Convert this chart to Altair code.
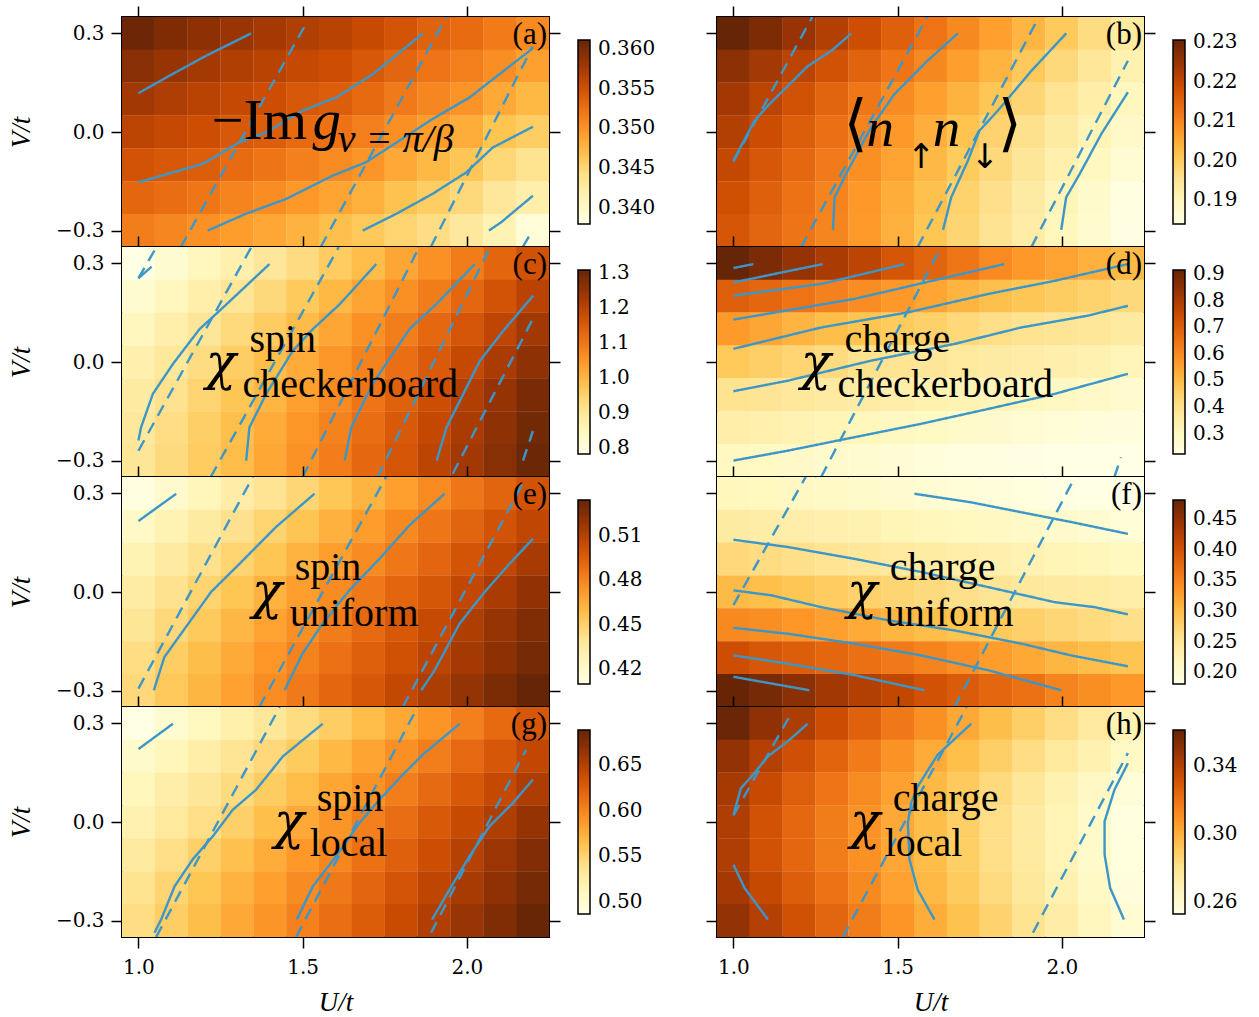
import altair as alt
import pandas as pd

# ---------------- data ----------------
U_VALUES = [1.0, 1.1, 1.2, 1.3, 1.4, 1.5, 1.6, 1.7, 1.8, 1.9, 2.0, 2.1, 2.2]
V_VALUES = [0.3, 0.2, 0.1, 0.0, -0.1, -0.2, -0.3]   # rows, top to bottom

A_VALUES = [
    [0.3607, 0.3597, 0.3589, 0.3582, 0.3576, 0.3569, 0.3564, 0.3556, 0.3547, 0.3536, 0.3528, 0.3517, 0.3506],
    [0.3592, 0.3583, 0.3576, 0.3569, 0.3564, 0.3557, 0.3552, 0.3544, 0.3533, 0.3522, 0.3514, 0.3503, 0.3491],
    [0.3577, 0.3570, 0.3564, 0.3557, 0.3552, 0.3544, 0.3539, 0.3530, 0.3518, 0.3508, 0.3500, 0.3485, 0.3474],
    [0.3563, 0.3557, 0.3552, 0.3544, 0.3539, 0.3529, 0.3523, 0.3514, 0.3502, 0.3493, 0.3482, 0.3466, 0.3457],
    [0.3548, 0.3543, 0.3539, 0.3528, 0.3521, 0.3513, 0.3506, 0.3498, 0.3485, 0.3475, 0.3464, 0.3449, 0.3438],
    [0.3532, 0.3527, 0.3520, 0.3510, 0.3504, 0.3496, 0.3488, 0.3480, 0.3467, 0.3458, 0.3447, 0.3432, 0.3421],
    [0.3515, 0.3509, 0.3501, 0.3493, 0.3486, 0.3478, 0.3469, 0.3462, 0.3452, 0.3443, 0.3430, 0.3414, 0.3390],
]
B_VALUES = [
    [0.2305, 0.2280, 0.2249, 0.2218, 0.2187, 0.2156, 0.2126, 0.2095, 0.2065, 0.2034, 0.2004, 0.1970, 0.1936],
    [0.2262, 0.2235, 0.2207, 0.2180, 0.2152, 0.2125, 0.2097, 0.2066, 0.2036, 0.2005, 0.1975, 0.1945, 0.1915],
    [0.2236, 0.2207, 0.2179, 0.2150, 0.2121, 0.2093, 0.2065, 0.2038, 0.2010, 0.1982, 0.1954, 0.1925, 0.1897],
    [0.2217, 0.2189, 0.2160, 0.2132, 0.2103, 0.2073, 0.2044, 0.2014, 0.1986, 0.1960, 0.1933, 0.1906, 0.1880],
    [0.2199, 0.2171, 0.2143, 0.2115, 0.2087, 0.2059, 0.2030, 0.2002, 0.1975, 0.1947, 0.1919, 0.1892, 0.1864],
    [0.2184, 0.2156, 0.2129, 0.2102, 0.2074, 0.2046, 0.2018, 0.1989, 0.1961, 0.1932, 0.1904, 0.1875, 0.1847],
    [0.2172, 0.2148, 0.2124, 0.2101, 0.2071, 0.2041, 0.2011, 0.1983, 0.1955, 0.1927, 0.1899, 0.1872, 0.1844],
]
C_VALUES = [
    [0.785, 0.817, 0.845, 0.872, 0.900, 0.931, 0.962, 0.992, 1.025, 1.058, 1.092, 1.129, 1.167],
    [0.815, 0.845, 0.875, 0.906, 0.936, 0.967, 0.997, 1.029, 1.061, 1.092, 1.128, 1.164, 1.200],
    [0.845, 0.875, 0.904, 0.934, 0.963, 0.993, 1.025, 1.058, 1.090, 1.125, 1.160, 1.195, 1.231],
    [0.870, 0.899, 0.929, 0.958, 0.988, 1.018, 1.050, 1.081, 1.115, 1.150, 1.186, 1.221, 1.257],
    [0.888, 0.916, 0.945, 0.974, 1.003, 1.037, 1.070, 1.104, 1.139, 1.175, 1.211, 1.246, 1.282],
    [0.898, 0.927, 0.957, 0.987, 1.018, 1.051, 1.083, 1.117, 1.152, 1.187, 1.222, 1.257, 1.292],
    [0.903, 0.933, 0.962, 0.991, 1.024, 1.057, 1.091, 1.126, 1.161, 1.196, 1.231, 1.266, 1.301],
]
D_VALUES = [
    [0.915, 0.879, 0.836, 0.800, 0.768, 0.717, 0.685, 0.643, 0.600, 0.570, 0.548, 0.525, 0.502],
    [0.697, 0.678, 0.650, 0.619, 0.595, 0.571, 0.544, 0.515, 0.490, 0.474, 0.458, 0.442, 0.423],
    [0.567, 0.542, 0.514, 0.493, 0.481, 0.464, 0.448, 0.428, 0.408, 0.396, 0.387, 0.379, 0.366],
    [0.469, 0.452, 0.436, 0.419, 0.400, 0.392, 0.382, 0.371, 0.360, 0.351, 0.342, 0.331, 0.317],
    [0.395, 0.386, 0.376, 0.366, 0.355, 0.347, 0.337, 0.327, 0.316, 0.307, 0.296, 0.284, 0.269],
    [0.347, 0.339, 0.329, 0.320, 0.310, 0.302, 0.292, 0.282, 0.272, 0.263, 0.255, 0.248, 0.245],
    [0.300, 0.292, 0.283, 0.274, 0.265, 0.257, 0.247, 0.238, 0.233, 0.229, 0.227, 0.225, 0.224],
]
E_VALUES = [
    [0.4118, 0.4189, 0.4261, 0.4332, 0.4403, 0.4474, 0.4548, 0.4624, 0.4700, 0.4776, 0.4851, 0.4927, 0.5002],
    [0.4215, 0.4283, 0.4350, 0.4418, 0.4486, 0.4559, 0.4633, 0.4707, 0.4781, 0.4854, 0.4926, 0.4998, 0.5071],
    [0.4285, 0.4352, 0.4419, 0.4485, 0.4557, 0.4630, 0.4703, 0.4776, 0.4849, 0.4921, 0.4994, 0.5067, 0.5139],
    [0.4342, 0.4414, 0.4485, 0.4557, 0.4629, 0.4701, 0.4773, 0.4845, 0.4917, 0.4989, 0.5061, 0.5133, 0.5205],
    [0.4390, 0.4463, 0.4537, 0.4611, 0.4684, 0.4758, 0.4831, 0.4903, 0.4975, 0.5046, 0.5118, 0.5190, 0.5262],
    [0.4442, 0.4514, 0.4587, 0.4659, 0.4732, 0.4804, 0.4874, 0.4943, 0.5013, 0.5082, 0.5152, 0.5222, 0.5291],
    [0.4465, 0.4540, 0.4615, 0.4691, 0.4766, 0.4840, 0.4912, 0.4984, 0.5056, 0.5128, 0.5200, 0.5272, 0.5340],
]
F_VALUES = [
    [0.219, 0.216, 0.213, 0.209, 0.206, 0.202, 0.198, 0.195, 0.192, 0.188, 0.184, 0.182, 0.181],
    [0.241, 0.238, 0.235, 0.231, 0.228, 0.223, 0.219, 0.216, 0.212, 0.208, 0.204, 0.200, 0.195],
    [0.269, 0.265, 0.260, 0.254, 0.249, 0.245, 0.240, 0.236, 0.232, 0.227, 0.223, 0.220, 0.216],
    [0.302, 0.297, 0.290, 0.284, 0.278, 0.273, 0.267, 0.260, 0.253, 0.247, 0.243, 0.240, 0.236],
    [0.346, 0.341, 0.334, 0.325, 0.316, 0.306, 0.298, 0.293, 0.286, 0.279, 0.272, 0.266, 0.260],
    [0.405, 0.395, 0.387, 0.378, 0.370, 0.360, 0.350, 0.339, 0.328, 0.318, 0.306, 0.298, 0.292],
    [0.480, 0.469, 0.454, 0.437, 0.425, 0.413, 0.400, 0.390, 0.378, 0.368, 0.350, 0.341, 0.332],
]
G_VALUES = [
    [0.4885, 0.4995, 0.5104, 0.5214, 0.5323, 0.5433, 0.5547, 0.5667, 0.5787, 0.5906, 0.6030, 0.6165, 0.6300],
    [0.503, 0.514, 0.524, 0.535, 0.546, 0.557, 0.569, 0.581, 0.593, 0.6048, 0.6173, 0.6299, 0.6425],
    [0.512, 0.523, 0.533, 0.544, 0.555, 0.567, 0.580, 0.592, 0.604, 0.617, 0.629, 0.641, 0.653],
    [0.519, 0.530, 0.541, 0.5525, 0.565, 0.578, 0.590, 0.603, 0.615, 0.628, 0.640, 0.652, 0.665],
    [0.529, 0.541, 0.553, 0.564, 0.576, 0.588, 0.599, 0.612, 0.624, 0.637, 0.649, 0.662, 0.674],
    [0.537, 0.549, 0.561, 0.573, 0.584, 0.596, 0.608, 0.620, 0.632, 0.644, 0.656, 0.668, 0.680],
    [0.542, 0.554, 0.566, 0.578, 0.590, 0.602, 0.614, 0.626, 0.639, 0.651, 0.663, 0.675, 0.687],
]
H_VALUES = [
    [0.3600, 0.3501, 0.3421, 0.3341, 0.3261, 0.3180, 0.3100, 0.3019, 0.2951, 0.2887, 0.2824, 0.2760, 0.2696],
    [0.3490, 0.3404, 0.3326, 0.3248, 0.3170, 0.3092, 0.3014, 0.2949, 0.2887, 0.2824, 0.2762, 0.2700, 0.2637],
    [0.3440, 0.3350, 0.3268, 0.3193, 0.3119, 0.3045, 0.2973, 0.2907, 0.2840, 0.2774, 0.2707, 0.2640, 0.2574],
    [0.3420, 0.3320, 0.3236, 0.3165, 0.3093, 0.3022, 0.2954, 0.2887, 0.2820, 0.2754, 0.2687, 0.2620, 0.2553],
    [0.3420, 0.3320, 0.3237, 0.3166, 0.3096, 0.3025, 0.2956, 0.2889, 0.2822, 0.2755, 0.2688, 0.2621, 0.2555],
    [0.3445, 0.3355, 0.3274, 0.3198, 0.3122, 0.3046, 0.2973, 0.2905, 0.2837, 0.2769, 0.2700, 0.2632, 0.2564],
    [0.3490, 0.3404, 0.3325, 0.3246, 0.3167, 0.3088, 0.3009, 0.2939, 0.2870, 0.2801, 0.2731, 0.2662, 0.2592],
]

# contour lines (U, V)
A_SOLID = [
    [(1.0, 0.118), (1.094, 0.171), (1.206, 0.232), (1.343, 0.30)],
    [(1.0, -0.153), (1.196, -0.097), (1.308, -0.031), (1.389, -0.001), (1.5, 0.065), (1.602, 0.105), (1.714, 0.176), (1.866, 0.30)],
    [(1.211, -0.30), (1.327, -0.249), (1.449, -0.204), (1.591, -0.133), (1.693, -0.092), (1.795, -0.026), (1.896, 0.040), (2.008, 0.105), (2.099, 0.176), (2.201, 0.255)],
    [(1.683, -0.30), (1.785, -0.249), (1.896, -0.188), (1.998, -0.123), (2.079, -0.047), (2.201, 0.016)],
    [(2.067, -0.30), (2.104, -0.275), (2.201, -0.194)],
]
A_DASHED = [
    [(1.129, -0.35), (1.505, 0.32)],
    [(1.555, -0.35), (1.937, 0.35)],
    [(1.89, -0.35), (2.2, 0.26)],
    [(2.17, -0.35), (2.2, -0.30)],
]
B_SOLID = [
    [(1.0, -0.087), (1.064, 0.034), (1.105, 0.080), (1.227, 0.201), (1.298, 0.247), (1.359, 0.30)],
    [(1.303, -0.298), (1.308, -0.199), (1.348, -0.118), (1.419, 0.014), (1.490, 0.115), (1.591, 0.217), (1.683, 0.30)],
    [(1.638, -0.298), (1.663, -0.199), (1.714, -0.087), (1.749, 0.004), (1.805, 0.065), (1.907, 0.186), (2.013, 0.30)],
    [(1.998, -0.298), (2.013, -0.199), (2.054, -0.128), (2.120, -0.006), (2.201, 0.121)],
]
B_DASHED = [
    [(1.0, -0.09), (1.24, 0.35)],
    [(1.206, -0.35), (1.59, 0.35)],
    [(1.561, -0.35), (1.93, 0.35)],
    [(1.907, -0.35), (2.201, 0.217)],
]
C_SOLID = [
    [(1.0, 0.255), (1.04, 0.29)],
    [(1.0, -0.239), (1.008, -0.199), (1.044, -0.097), (1.105, -0.006), (1.186, 0.100), (1.247, 0.156), (1.399, 0.298)],
    [(1.328, -0.30), (1.338, -0.199), (1.389, -0.097), (1.470, 0.034), (1.531, 0.100), (1.613, 0.176), (1.724, 0.298)],
    [(1.628, -0.30), (1.648, -0.199), (1.713, -0.066), (1.826, 0.101), (1.908, 0.177), (2.024, 0.298)],
    [(1.908, -0.30), (1.938, -0.199), (2.04, 0.004), (2.111, 0.095), (2.202, 0.202)],
]
C_DASHED = [
    [(1.0, 0.255), (1.055, 0.35)],
    [(1.0, -0.27), (1.344, 0.35)],
    [(1.22, -0.35), (1.61, 0.35)],
    [(1.50, -0.35), (1.855, 0.35)],
    [(1.728, -0.35), (2.071, 0.35)],
    [(1.957, -0.34), (2.20, 0.13)],
    [(2.171, -0.30), (2.201, -0.21)],
]
D_SOLID = [
    [(1.0, 0.286), (1.061, 0.298)],
    [(1.0, 0.242), (1.135, 0.27), (1.272, 0.298)],
    [(1.0, 0.202), (1.27, 0.238), (1.521, 0.298)],
    [(1.0, 0.129), (1.368, 0.192), (1.825, 0.298)],
    [(1.0, 0.040), (1.267, 0.105), (1.531, 0.151), (1.775, 0.207), (1.978, 0.247), (2.201, 0.298)],
    [(1.0, -0.089), (1.165, -0.057), (1.419, 0.004), (1.673, 0.055), (1.876, 0.105), (2.079, 0.141), (2.201, 0.171)],
    [(1.0, -0.30), (1.165, -0.27), (1.318, -0.239), (1.572, -0.188), (1.775, -0.143), (1.978, -0.097), (2.201, -0.036)],
]
D_DASHED = [
    [(1.267, -0.35), (1.632, 0.35)],
    [(2.16, -0.35), (2.18, -0.29)],
]
E_SOLID = [
    [(1.0, 0.216), (1.115, 0.299)],
    [(1.047, -0.299), (1.079, -0.198), (1.145, -0.106), (1.221, 0.0), (1.308, 0.086), (1.419, 0.198), (1.536, 0.299)],
    [(1.445, -0.299), (1.5, -0.187), (1.561, -0.096), (1.642, 0.005), (1.734, 0.101), (1.825, 0.203), (1.932, 0.299)],
    [(1.861, -0.299), (1.902, -0.238), (1.978, -0.096), (2.054, 0.0), (2.130, 0.086), (2.201, 0.162)],
]
E_DASHED = [
    [(1.0, -0.294), (1.348, 0.35)],
    [(1.368, -0.35), (1.754, 0.35)],
    [(1.805, -0.35), (2.17, 0.33)],
]
F_SOLID = [
    [(1.551, 0.299), (1.723, 0.273), (1.875, 0.243), (2.028, 0.213), (2.201, 0.177)],
    [(1.0, 0.159), (1.165, 0.137), (1.368, 0.101), (1.571, 0.061), (1.775, 0.015), (1.978, -0.031), (2.099, -0.046), (2.201, -0.068)],
    [(1.0, 0.005), (1.115, -0.010), (1.267, -0.046), (1.470, -0.086), (1.673, -0.117), (1.876, -0.157), (2.028, -0.193), (2.201, -0.226)],
    [(1.0, -0.109), (1.165, -0.127), (1.368, -0.157), (1.571, -0.193), (1.775, -0.238), (1.998, -0.299)],
    [(1.0, -0.193), (1.165, -0.218), (1.368, -0.253), (1.582, -0.299)],
    [(1.0, -0.258), (1.231, -0.299)],
]
F_DASHED = [
    [(1.0, -0.04), (1.22, 0.35)],
    [(1.673, -0.35), (2.04, 0.35)],
]
G_SOLID = [
    [(1.0, 0.222), (1.105, 0.299)],
    [(1.049, -0.337), (1.069, -0.297), (1.110, -0.196), (1.165, -0.114), (1.226, -0.044), (1.287, 0.037), (1.358, 0.098), (1.440, 0.200), (1.561, 0.299)],
    [(1.482, -0.297), (1.531, -0.196), (1.602, -0.104), (1.673, -0.003), (1.734, 0.068), (1.805, 0.144), (1.866, 0.205), (1.978, 0.299)],
    [(1.894, -0.297), (1.947, -0.206), (2.008, -0.104), (2.069, -0.013), (2.140, 0.058), (2.201, 0.129)],
]
G_DASHED = [
    [(1.054, -0.35), (1.43, 0.35)],
    [(1.48, -0.35), (1.85, 0.35)],
    [(1.891, -0.337), (2.18, 0.22)],
]
H_SOLID = [
    [(1.0, 0.022), (1.023, 0.103), (1.064, 0.149), (1.105, 0.200), (1.165, 0.245), (1.226, 0.299)],
    [(1.0, -0.130), (1.034, -0.201), (1.105, -0.297)],
    [(1.612, -0.297), (1.561, -0.206), (1.536, -0.114), (1.531, -0.003), (1.541, 0.058), (1.561, 0.108), (1.622, 0.205), (1.724, 0.299)],
    [(2.189, -0.297), (2.147, -0.201), (2.130, -0.099), (2.130, 0.002), (2.160, 0.098), (2.201, 0.179)],
]
H_DASHED = [
    [(1.0, 0.02), (1.17, 0.32)],
    [(1.333, -0.35), (1.71, 0.35)],
    [(1.912, -0.337), (2.201, 0.21)],
]

# colour-bar ranges and ticks
A_RANGE, A_TICKS = [0.338, 0.3611], [0.340, 0.345, 0.350, 0.355, 0.360]
B_RANGE, B_TICKS = [0.184, 0.2305], [0.19, 0.20, 0.21, 0.22, 0.23]
C_RANGE, C_TICKS = [0.783, 1.308], [0.8, 0.9, 1.0, 1.1, 1.2, 1.3]
D_RANGE, D_TICKS = [0.223, 0.915], [0.3, 0.4, 0.5, 0.6, 0.7, 0.8, 0.9]
E_RANGE, E_TICKS = [0.41, 0.534], [0.42, 0.45, 0.48, 0.51]
F_RANGE, F_TICKS = [0.181, 0.481], [0.20, 0.25, 0.30, 0.35, 0.40, 0.45]
G_RANGE, G_TICKS = [0.487, 0.688], [0.50, 0.55, 0.60, 0.65]
H_RANGE, H_TICKS = [0.253, 0.361], [0.26, 0.30, 0.34]

X_TICKS = [1.0, 1.5, 2.0]
Y_TICKS = [-0.3, 0.0, 0.3]

# annotation text pieces: (text, U, V, kind)
A_LABEL = [("\u2212Im", 1.2226, -0.021, "bigroman"), ("g", 1.530, -0.021, "bigital"),
           ("\u03bd = \u03c0/\u03b2", 1.607, -0.062, "subital"), ("(a)", 2.244, 0.268, "letter")]
B_LABEL = [("\u27e8", 1.335, 0.02, "bracket"), ("n", 1.405, -0.042, "n"), ("\u2191", 1.528, -0.11, "arrow"),
           ("n", 1.6067, -0.042, "n"), ("\u2193", 1.722, -0.11, "arrow"), ("\u27e9", 1.805, 0.02, "bracket"),
           ("(b)", 2.244, 0.268, "letter")]
C_LABEL = [("\u03c7", 1.205, -0.051, "chi"), ("spin", 1.338, 0.031, "sub"), ("checkerboard", 1.317, -0.108, "sub"), ("(c)", 2.244, 0.268, "letter")]
D_LABEL = [("\u03c7", 1.205, -0.051, "chi"), ("charge", 1.338, 0.031, "sub"), ("checkerboard", 1.317, -0.108, "sub"), ("(d)", 2.244, 0.268, "letter")]
E_LABEL = [("\u03c7", 1.3456, -0.0495, "chi"), ("spin", 1.4756, 0.0356, "sub"), ("uniform", 1.4604, -0.104, "sub"), ("(e)", 2.244, 0.268, "letter")]
F_LABEL = [("\u03c7", 1.3456, -0.0495, "chi"), ("charge", 1.4756, 0.0356, "sub"), ("uniform", 1.4604, -0.104, "sub"), ("(f)", 2.244, 0.268, "letter")]
G_LABEL = [("\u03c7", 1.4127, -0.048, "chi"), ("spin", 1.5427, 0.032, "sub"), ("local", 1.5213, -0.102, "sub"), ("(g)", 2.244, 0.268, "letter")]
H_LABEL = [("\u03c7", 1.3548, -0.048, "chi"), ("charge", 1.4848, 0.032, "sub"), ("local", 1.4604, -0.102, "sub"), ("(h)", 2.244, 0.268, "letter")]

# ---------------- styling ----------------
SERIF = "Liberation Serif"
TICK_FONT = "DejaVu Serif"
BLUE = "#3c96c8"
PANEL_W, PANEL_H = 427, 230
# matplotlib YlOrBr stops
YLORBR = ["#ffffe5", "#fff7bc", "#fee391", "#fec44f", "#fe9929", "#ec7014", "#cc4c02", "#993404", "#662506"]

TEXT_STYLES = {
    "bigroman": dict(font=SERIF, fontSize=57, fontStyle="normal", align="left", baseline="alphabetic"),
    "bigital": dict(font=SERIF, fontSize=57, fontStyle="italic", align="left", baseline="alphabetic"),
    "subital": dict(font=SERIF, fontSize=40, fontStyle="italic", align="left", baseline="alphabetic"),
    "sub": dict(font=SERIF, fontSize=40, fontStyle="normal", align="left", baseline="alphabetic"),
    "chi": dict(font="DejaVu Serif", fontSize=50, fontStyle="italic", align="left", baseline="alphabetic"),
    "n": dict(font=SERIF, fontSize=55, fontStyle="italic", align="left", baseline="alphabetic"),
    "arrow": dict(font="DejaVu Sans", fontSize=34, fontStyle="normal", align="left", baseline="alphabetic"),
    "bracket": dict(font="DejaVu Sans", fontSize=62, fontStyle="normal", align="left", baseline="middle"),
    "letter": dict(font=SERIF, fontSize=31, fontStyle="normal", align="right", baseline="alphabetic"),
}

x_scale = alt.Scale(domain=[0.95, 2.25], nice=False, zero=False)
y_scale = alt.Scale(domain=[-0.35, 0.35], nice=False, zero=False)


def heat_frame(values):
    rows = []
    for i, v in enumerate(V_VALUES):
        for j, u in enumerate(U_VALUES):
            rows.append({"U": u, "V": v, "value": values[i][j]})
    return pd.DataFrame(rows)


def line_frame(solid, dashed):
    rows = []
    for kind, group in (("solid", solid), ("dashed", dashed)):
        for k, line in enumerate(group):
            for idx, (u, v) in enumerate(line):
                rows.append({"U": u, "V": v, "line": f"{kind}{k}", "style": kind, "idx": idx})
    return pd.DataFrame(rows)


def text_layer(piece):
    text, u, v, kind = piece
    st = TEXT_STYLES[kind]
    return alt.Chart(pd.DataFrame([{"U": u, "V": v, "t": text}])).mark_text(
        color="black", **st
    ).encode(
        x=alt.X("U:Q", scale=x_scale, axis=None),
        y=alt.Y("V:Q", scale=y_scale, axis=None),
        text="t:N",
    )


def color_scale(rng):
    lo, hi = rng
    n = len(YLORBR) - 1
    stops = [lo + (hi - lo) * k / n for k in range(n + 1)]
    return alt.Scale(domain=stops, range=YLORBR, interpolate="rgb")


def panel(values, solid, dashed, rng, ticks, fmt, labels, left, bottom):
    bottom_axis = alt.Axis(orient="bottom", values=X_TICKS, labels=bottom, format=".1f",
                           title="U/t" if bottom else None, tickSize=11)
    left_axis = alt.Axis(orient="left", values=Y_TICKS, labels=left,
                         labelExpr="datum.value < 0 ? '\u2212' + format(-datum.value, '.1f') : format(datum.value, '.1f')",
                         title="V/t" if left else None, tickSize=11)
    top_axis = alt.Axis(orient="top", values=X_TICKS, labels=False, title=None, tickSize=11)
    right_axis = alt.Axis(orient="right", values=Y_TICKS, labels=False, title=None, tickSize=11)

    legend = alt.Legend(orient="none", legendX=456, legendY=23, direction="vertical",
                        gradientLength=184, gradientThickness=12, title=None, values=ticks,
                        format=fmt, labelFont=TICK_FONT, labelFontSize=20, labelOffset=8,
                        labelColor="black", gradientStrokeColor="black", gradientStrokeWidth=1.5,
                        padding=0)

    rect = alt.Chart(heat_frame(values)).transform_calculate(
        u0="datum.U - 0.0503", u1="datum.U + 0.0503",
        v0="datum.V - 0.0503", v1="datum.V + 0.0503",
    ).mark_rect(clip=True).encode(
        x=alt.X("u0:Q", scale=x_scale, axis=bottom_axis),
        x2="u1:Q",
        y=alt.Y("v0:Q", scale=y_scale, axis=left_axis),
        y2="v1:Q",
        color=alt.Color("value:Q", scale=color_scale(rng), legend=legend),
    )

    lines = alt.Chart(line_frame(solid, dashed)).mark_line(
        clip=True, strokeWidth=2.4, color=BLUE
    ).encode(
        x=alt.X("U:Q", scale=x_scale, axis=top_axis),
        y=alt.Y("V:Q", scale=y_scale, axis=right_axis),
        detail="line:N",
        order="idx:Q",
        strokeDash=alt.StrokeDash("style:N", scale=alt.Scale(domain=["solid", "dashed"], range=[[1, 0], [12, 8]]), legend=None),
    )

    texts = [text_layer(p) for p in labels]
    return alt.layer(rect, lines, *texts).properties(
        width=PANEL_W, height=PANEL_H
    ).resolve_axis(x="independent", y="independent")


pa = panel(A_VALUES, A_SOLID, A_DASHED, A_RANGE, A_TICKS, ".3f", A_LABEL, True, False)
pb = panel(B_VALUES, B_SOLID, B_DASHED, B_RANGE, B_TICKS, ".2f", B_LABEL, False, False)
pc = panel(C_VALUES, C_SOLID, C_DASHED, C_RANGE, C_TICKS, ".1f", C_LABEL, True, False)
pd_ = panel(D_VALUES, D_SOLID, D_DASHED, D_RANGE, D_TICKS, ".1f", D_LABEL, False, False)
pe = panel(E_VALUES, E_SOLID, E_DASHED, E_RANGE, E_TICKS, ".2f", E_LABEL, True, False)
pf = panel(F_VALUES, F_SOLID, F_DASHED, F_RANGE, F_TICKS, ".2f", F_LABEL, False, False)
pg = panel(G_VALUES, G_SOLID, G_DASHED, G_RANGE, G_TICKS, ".2f", G_LABEL, True, True)
ph = panel(H_VALUES, H_SOLID, H_DASHED, H_RANGE, H_TICKS, ".2f", H_LABEL, False, True)

chart = alt.concat(
    pa, pb, pc, pd_, pe, pf, pg, ph,
    columns=2, spacing={"row": 0, "column": 168}, bounds="flush",
).resolve_scale(color="independent", x="independent", y="independent").properties(
    padding={"left": 6, "top": 4, "right": 5, "bottom": 5}
).configure_view(
    stroke="black", strokeWidth=2
).configure_axis(
    grid=False, domain=False, tickColor="black", tickWidth=1.5,
    labelFont=TICK_FONT, labelFontSize=20, labelColor="black", labelPadding=7,
    titleFont=SERIF, titleFontSize=27, titleFontStyle="italic", titleFontWeight="normal",
    titleColor="black",
).configure_axisLeft(titlePadding=20).configure_axisBottom(titlePadding=12, labelPadding=9)

chart.save("out.html", embed_options={"renderer": "svg", "actions": False})
